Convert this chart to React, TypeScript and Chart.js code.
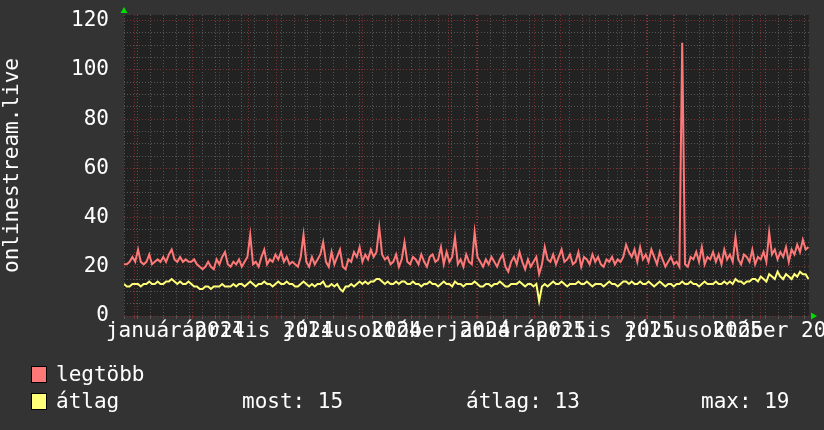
import React, { useEffect, useRef } from "react";
import { Chart, registerables } from "chart.js";

Chart.register(...registerables);

const DAY_MS = 86400000;
const START = Date.UTC(2023, 10, 20);
const SPAN_DAYS = 732.6;
const SAMPLE_STEP_DAYS = 3;

const legtobbValues = [
  21, 21, 22, 24, 22, 27, 22, 21, 22, 25,
  21, 22, 23, 22, 24, 22, 25, 27, 23, 22,
  24, 22, 23, 22, 22, 23, 21, 20, 19, 20,
  22, 20, 19, 23, 21, 24, 26, 21, 20, 22,
  21, 23, 20, 22, 24, 33, 21, 22, 20, 24,
  27, 21, 23, 22, 25, 23, 26, 22, 24, 21,
  22, 21, 20, 24, 33, 22, 20, 24, 21, 23,
  25, 30, 22, 20, 26, 21, 24, 27, 20, 19,
  23, 22, 26, 24, 28, 22, 25, 23, 27, 24,
  26, 36, 25, 23, 24, 21, 22, 25, 20, 23,
  30, 22, 21, 24, 23, 21, 25, 22, 20, 24,
  25, 22, 23, 28, 21, 26, 22, 24, 32, 21,
  23, 20, 25, 22, 21, 34, 24, 22, 20, 23,
  21, 24, 22, 20, 23, 25, 20, 18, 22, 24,
  21, 26, 22, 19, 23, 20, 22, 24, 17, 21,
  28, 23, 22, 25, 21, 24, 27, 22, 23, 25,
  21, 22, 26, 20, 24, 23, 21, 25, 22, 24,
  21, 20, 23, 22, 24, 21, 23, 22, 24, 29,
  26, 24, 27, 22, 28, 23, 25, 22, 27, 24,
  21, 26, 23, 20, 22, 24, 21, 22, 20, 111,
  21, 20, 24, 23, 26, 22, 28, 21, 24, 23,
  26, 22, 25, 21, 27, 23, 25, 22, 32, 23,
  21, 25, 24, 22, 27, 21, 24, 23, 26, 22,
  34, 25, 27, 23, 26, 24, 28, 22, 27, 25,
  29, 26, 31, 27, 28,
];

const atlagValues = [
  13, 12, 12, 13, 13, 13, 12, 13, 13, 14,
  13, 13, 14, 13, 13, 14, 14, 15, 14, 13,
  14, 13, 13, 14, 13, 12, 12, 11, 11, 12,
  12, 11, 12, 12, 12, 13, 12, 12, 12, 13,
  12, 13, 13, 12, 13, 14, 13, 12, 13, 13,
  14, 13, 13, 12, 13, 14, 13, 13, 14, 13,
  13, 12, 12, 13, 14, 13, 12, 13, 12, 13,
  13, 14, 12, 12, 13, 12, 13, 11, 10, 12,
  12, 13, 12, 13, 14, 13, 14, 13, 14, 14,
  15, 15, 14, 13, 14, 13, 13, 14, 13, 14,
  14, 13, 13, 14, 13, 13, 12, 13, 13, 14,
  13, 13, 12, 13, 14, 13, 13, 12, 14, 13,
  13, 12, 13, 13, 13, 14, 13, 12, 12, 13,
  13, 12, 13, 13, 14, 13, 12, 12, 13, 13,
  13, 14, 13, 12, 13, 13, 12, 13, 6, 12,
  13, 12, 13, 14, 13, 13, 14, 13, 12, 13,
  13, 13, 14, 13, 13, 14, 13, 12, 13, 13,
  13, 12, 13, 14, 13, 13, 12, 13, 14, 14,
  13, 14, 13, 13, 14, 13, 13, 14, 13, 12,
  13, 14, 13, 12, 13, 13, 12, 13, 13, 14,
  13, 13, 14, 13, 13, 12, 13, 14, 13, 13,
  13, 14, 13, 13, 14, 13, 14, 13, 15, 14,
  14, 13, 14, 14, 15, 15, 14, 16, 15, 14,
  17, 16, 15, 18, 16, 15, 17, 16, 15, 17,
  16, 18, 17, 17, 15,
];

const quarterLabels = [
  "január 2024", "április 2024", "július 2024", "október 2024",
  "január 2025", "április 2025", "július 2025", "október 2025",
];
const quarterLabelDates = [
  "2024-01-14", "2024-04-11", "2024-07-21", "2024-10-17",
  "2025-01-13", "2025-04-11", "2025-07-21", "2025-10-17",
];

const yLabelValues = [0, 20, 40, 60, 80, 100, 120];
const yMinorStep = 5;
const Y_MAX = 122.3;

const seriesNames = ["legtöbb", "átlag"];
const statLabels = ["most:", "átlag:", "max:"];
const statValues = [15, 13, 19];

const FONT = "'DejaVu Sans Mono', monospace";
const RED_LINE = "#ff7878";
const YELLOW_LINE = "#ffff78";
const RED_GRID = "#7a3030";
const GRAY_GRID = "#555555";

const dayOf = (y: number, m: number, d: number) => (Date.UTC(y, m, d) - START) / DAY_MS;
const dayOfIso = (s: string) => {
  const [y, m, d] = s.split("-").map(Number);
  return dayOf(y, m - 1, d);
};

type XT = { value: number; kind: "major" | "minor" | "label"; label: string };

function buildXTicks(): XT[] {
  const out: XT[] = [];
  let y = 2023;
  let m = 11;
  for (;;) {
    const v = dayOf(y, m, 1);
    if (v > SPAN_DAYS) break;
    if (v >= 0) out.push({ value: v, kind: "major", label: "" });
    m++;
    if (m > 11) { m = 0; y++; }
  }
  const anchor = dayOf(2025, 5, 16);
  for (let v = anchor; v >= 0; v -= 14) out.push({ value: v, kind: "minor", label: "" });
  for (let v = anchor + 14; v <= SPAN_DAYS; v += 14) out.push({ value: v, kind: "minor", label: "" });
  quarterLabels.forEach((txt, i) => {
    const v = dayOfIso(quarterLabelDates[i]);
    if (v <= SPAN_DAYS) out.push({ value: v, kind: "label", label: txt });
  });
  out.sort((a, b) => a.value - b.value);
  return out;
}

function buildYTicks(): number[] {
  const out: number[] = [];
  for (let v = 0; v <= yLabelValues[yLabelValues.length - 1]; v += yMinorStep) out.push(v);
  return out;
}

export default function App() {
  const ref = useRef<HTMLCanvasElement | null>(null);

  useEffect(() => {
    if (!ref.current) return;
    const X_TICKS = buildXTicks();
    const Y_TICKS = buildYTicks();

    const bgPlugin = {
      id: "bgPlugin",
      beforeDraw(chart: any) {
        const { ctx, chartArea: a } = chart;
        ctx.save();
        ctx.fillStyle = "#333333";
        ctx.fillRect(0, 0, chart.width, chart.height);
        ctx.fillStyle = "#222222";
        ctx.fillRect(a.left, a.top, a.right - a.left, a.bottom - a.top);
        ctx.restore();
      },
      afterDraw(chart: any) {
        const { ctx, chartArea: a } = chart;
        ctx.save();
        ctx.fillStyle = "#00dd00";
        ctx.beginPath();
        ctx.moveTo(a.left - 3.5, a.top - 2);
        ctx.lineTo(a.left + 3.5, a.top - 2);
        ctx.lineTo(a.left, a.top - 8);
        ctx.closePath();
        ctx.fill();
        ctx.beginPath();
        ctx.moveTo(a.right + 2, a.bottom - 3.5);
        ctx.lineTo(a.right + 2, a.bottom + 3.5);
        ctx.lineTo(a.right + 8, a.bottom);
        ctx.closePath();
        ctx.fill();
        ctx.restore();
      },
    };

    const chart = new Chart(ref.current, {
      type: "line",
      data: {
        datasets: [
          {
            label: seriesNames[0],
            data: legtobbValues.map((v, i) => ({ x: i * SAMPLE_STEP_DAYS, y: v })),
            borderColor: RED_LINE,
            borderWidth: 2,
            pointRadius: 0,
            tension: 0,
          },
          {
            label: seriesNames[1],
            data: atlagValues.map((v, i) => ({ x: i * SAMPLE_STEP_DAYS, y: v })),
            borderColor: YELLOW_LINE,
            borderWidth: 2,
            pointRadius: 0,
            tension: 0,
          },
        ],
      },
      options: {
        animation: false,
        responsive: false,
        maintainAspectRatio: false,
        layout: { padding: { top: 15, right: 15, bottom: 0, left: 0 } },
        plugins: { legend: { display: false }, tooltip: { enabled: false } },
        scales: {
          x: {
            type: "linear",
            min: 0,
            max: SPAN_DAYS,
            afterBuildTicks: (s: any) => {
              s.ticks = X_TICKS.map((t) => ({ value: t.value }));
            },
            afterFit: (s: any) => {
              s.height = 114;
              s.paddingLeft = 0;
              s.paddingRight = 0;
            },
            ticks: {
              autoSkip: false,
              maxRotation: 0,
              minRotation: 0,
              padding: 0,
              color: "#ffffff",
              font: { family: FONT, size: 21 },
              callback: (_v: any, i: number) => (X_TICKS[i] ? X_TICKS[i].label : ""),
            },
            grid: {
              color: (c: any) => {
                const t = X_TICKS[c.index];
                if (!t) return "rgba(0,0,0,0)";
                return t.kind === "major" ? RED_GRID : t.kind === "minor" ? GRAY_GRID : "rgba(0,0,0,0)";
              },
              tickLength: 3,
              lineWidth: 1,
            },
            border: { display: false, dash: [1, 2] },
          },
          y: {
            type: "linear",
            min: 0,
            max: Y_MAX,
            afterBuildTicks: (s: any) => {
              s.ticks = Y_TICKS.map((v) => ({ value: v }));
            },
            afterFit: (s: any) => {
              s.width = 124;
              s.paddingTop = 0;
              s.paddingBottom = 0;
            },
            ticks: {
              autoSkip: false,
              padding: 15,
              color: "#ffffff",
              font: { family: FONT, size: 21 },
              callback: (v: any) => (yLabelValues.includes(v) ? String(v) : ""),
            },
            grid: {
              color: (c: any) => (c.tick && c.tick.value % 20 === 0 ? RED_GRID : GRAY_GRID),
              drawTicks: false,
              lineWidth: 1,
            },
            border: { display: false, dash: [1, 2] },
            title: {
              display: true,
              text: "onlinestream.live",
              color: "#ffffff",
              font: { family: FONT, size: 21 },
              padding: { top: 0, bottom: 0 },
            },
          },
        },
      },
      plugins: [bgPlugin],
    } as any);
    return () => chart.destroy();
  }, []);

  const textStyle: React.CSSProperties = {
    position: "absolute",
    fontFamily: FONT,
    fontSize: 21,
    lineHeight: "21px",
    color: "#ffffff",
    whiteSpace: "pre",
  };
  const box = (top: number, color: string): React.CSSProperties => ({
    position: "absolute",
    left: 31,
    top,
    width: 14,
    height: 15,
    background: color,
    border: "1px solid #000",
  });

  return (
    <div style={{ position: "fixed", left: 0, top: 0, width: 824, height: 430, background: "#333333", overflow: "hidden" }}>
      <canvas ref={ref} width={824} height={430} style={{ position: "absolute", left: 0, top: 0, width: 824, height: 430 }} />
      <div style={box(366, RED_LINE)} />
      <div style={{ ...textStyle, left: 56, top: 364 }}>{seriesNames[0]}</div>
      <div style={box(393, YELLOW_LINE)} />
      <div style={{ ...textStyle, left: 56, top: 391 }}>{seriesNames[1]}</div>
      <div style={{ ...textStyle, left: 242, top: 391 }}>{`${statLabels[0]} ${statValues[0]}`}</div>
      <div style={{ ...textStyle, left: 466, top: 391 }}>{`${statLabels[1]} ${statValues[1]}`}</div>
      <div style={{ ...textStyle, left: 701, top: 391 }}>{`${statLabels[2]} ${statValues[2]}`}</div>
    </div>
  );
}
